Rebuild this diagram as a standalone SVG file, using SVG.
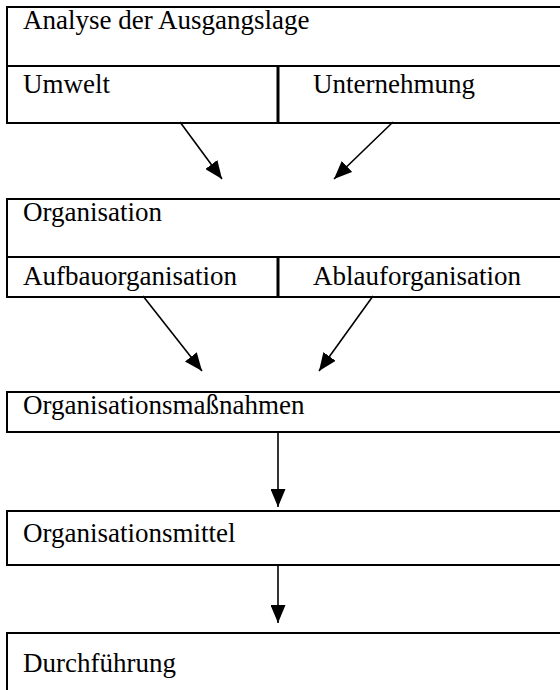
<svg xmlns="http://www.w3.org/2000/svg" width="560" height="690" viewBox="0 0 560 690">
  <style>
    .box { fill: #ffffff; stroke: #000000; stroke-width: 2; }
    .div { stroke: #000000; stroke-width: 2; fill: none; }
    .bar { stroke: #000000; stroke-width: 3; fill: none; }
    .lbl { font-family: "Liberation Serif", "Times New Roman", serif; font-size: 27px; fill: #000000; }
    .arrow { stroke: #000000; stroke-width: 1.6; fill: none; marker-end: url(#head); }
  </style>
  <defs>
    <marker id="head" markerUnits="userSpaceOnUse" markerWidth="19" markerHeight="15" refX="18" refY="7.5" orient="auto">
      <path d="M0,0 L18,7.5 L0,15 Z" fill="#000000"/>
    </marker>
  </defs>
  <rect width="560" height="690" fill="#ffffff"/>

  <!-- Analyse der Ausgangslage with its two halves -->
  <g id="analyse">
    <rect class="box" x="7" y="7" width="570" height="116"/>
    <line class="div" x1="7" y1="66" x2="577" y2="66"/>
    <line class="bar" x1="278" y1="66" x2="278" y2="123"/>
    <text class="lbl" x="23" y="29">Analyse der Ausgangslage</text>
  </g>
  <g id="umwelt">
    <text class="lbl" x="23" y="93">Umwelt</text>
  </g>
  <g id="unternehmung">
    <text class="lbl" x="313" y="93">Unternehmung</text>
  </g>

  <!-- Organisation with its two halves -->
  <g id="organisation">
    <rect class="box" x="7" y="199" width="570" height="98"/>
    <line class="div" x1="7" y1="257" x2="577" y2="257"/>
    <line class="bar" x1="278" y1="257" x2="278" y2="297"/>
    <text class="lbl" x="23" y="221">Organisation</text>
  </g>
  <g id="aufbau">
    <text class="lbl" x="23" y="285">Aufbauorganisation</text>
  </g>
  <g id="ablauf">
    <text class="lbl" x="313" y="285">Ablauforganisation</text>
  </g>

  <g id="massnahmen">
    <rect class="box" x="7" y="392" width="570" height="40"/>
    <text class="lbl" x="23" y="414">Organisationsmaßnahmen</text>
  </g>

  <g id="mittel">
    <rect class="box" x="7" y="511" width="570" height="54"/>
    <text class="lbl" x="23" y="542">Organisationsmittel</text>
  </g>

  <g id="durchfuehrung">
    <rect class="box" x="7" y="633" width="570" height="80"/>
    <text class="lbl" x="23" y="672">Durchführung</text>
  </g>

  <!-- connectors -->
  <g id="connectors">
    <line class="arrow" x1="180" y1="122" x2="222" y2="179"/>
    <line class="arrow" x1="393" y1="122" x2="334" y2="179"/>
    <line class="arrow" x1="143" y1="296" x2="202" y2="371"/>
    <line class="arrow" x1="373" y1="296" x2="319" y2="371"/>
    <line class="arrow" x1="278" y1="432" x2="278" y2="507"/>
    <line class="arrow" x1="278" y1="565" x2="278" y2="623"/>
  </g>
</svg>
